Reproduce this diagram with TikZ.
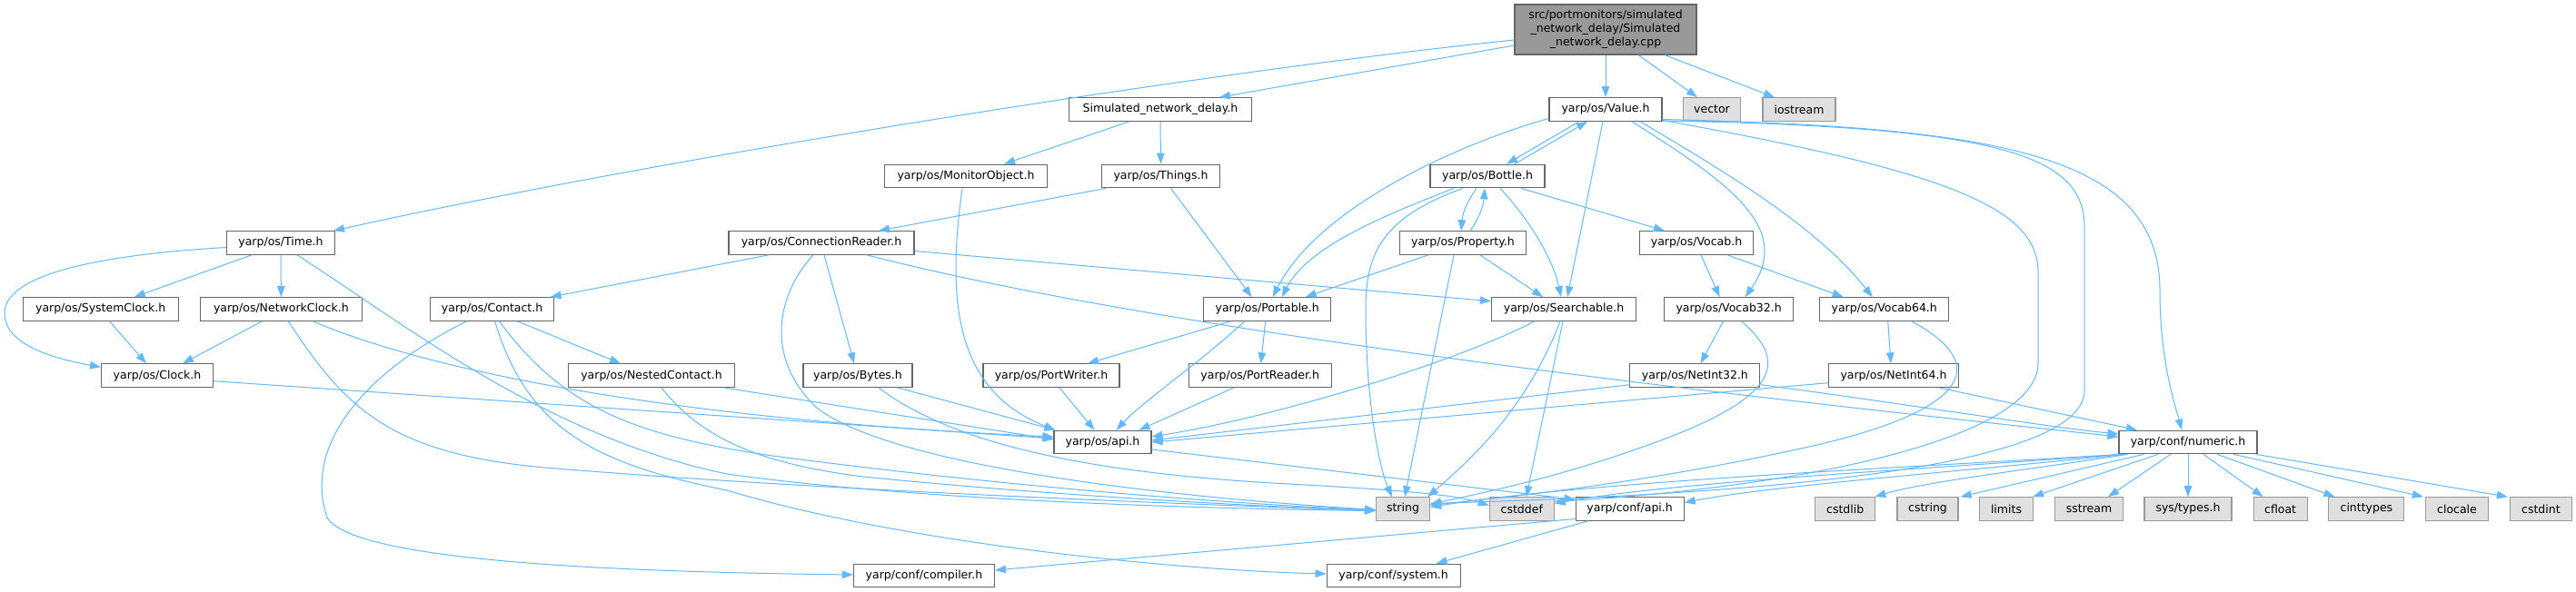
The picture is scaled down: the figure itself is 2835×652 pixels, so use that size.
\documentclass[tikz,border=0pt]{standalone}
\usepackage{fontspec}
\setmainfont{DejaVu Sans}
\usetikzlibrary{arrows.meta}
\definecolor{edgeblue}{HTML}{63B8FF}
\definecolor{boxborder}{HTML}{666666}
\definecolor{extfill}{HTML}{E0E0E0}
\definecolor{extborder}{HTML}{999999}
\definecolor{mainfill}{HTML}{999999}
\begin{document}
\begin{tikzpicture}[x=1pt,y=-1pt,
  box/.style={draw=boxborder, fill=white, line width=1.1pt, minimum height=25.6pt, inner sep=0pt, font=\fontsize{12.5}{15}\selectfont, text=black},
  ext/.style={box, draw=extborder, fill=extfill},
  mainbox/.style={box, fill=mainfill, minimum height=55pt, align=center},
  dep/.style={draw=edgeblue, line width=1pt, -{Triangle[length=12pt,width=8.5pt]}}]
\fill[white] (0,0) rectangle (2835,652);
\useasboundingbox (0,0) rectangle (2835,652);
% nodes
\node[mainbox, minimum width=200pt] (cpp) at (1767,32.5) {src/portmonitors/simulated\\\_network\_delay/Simulated\\\_network\_delay.cpp};
\node[box, minimum width=201pt] (snd) at (1277,120.5) {Simulated\_network\_delay.h};
\node[box, minimum width=124pt] (value) at (1767,120.5) {yarp/os/Value.h};
\node[ext, minimum width=63pt] (vector) at (1884,120.5) {vector};
\node[ext, minimum width=80pt] (iostream) at (1980,120.5) {iostream};
\node[box, minimum width=179pt] (monitor) at (1063,194) {yarp/os/MonitorObject.h};
\node[box, minimum width=130pt] (things) at (1277.5,194) {yarp/os/Things.h};
\node[box, minimum width=126pt] (bottle) at (1637,194) {yarp/os/Bottle.h};
\node[box, minimum width=119pt] (time) at (309,267.5) {yarp/os/Time.h};
\node[box, minimum width=204pt] (connreader) at (904,267.5) {yarp/os/ConnectionReader.h};
\node[box, minimum width=139pt] (property) at (1610,267.5) {yarp/os/Property.h};
\node[box, minimum width=125pt] (vocab) at (1867,267.5) {yarp/os/Vocab.h};
\node[box, minimum width=171pt] (systemclock) at (110.7,340.5) {yarp/os/SystemClock.h};
\node[box, minimum width=178pt] (networkclock) at (309.4,340.5) {yarp/os/NetworkClock.h};
\node[box, minimum width=136pt] (contact) at (541.6,340.5) {yarp/os/Contact.h};
\node[box, minimum width=140pt] (portable) at (1394.7,340.5) {yarp/os/Portable.h};
\node[box, minimum width=159pt] (searchable) at (1721,340.5) {yarp/os/Searchable.h};
\node[box, minimum width=142pt] (vocab32) at (1902.6,340.5) {yarp/os/Vocab32.h};
\node[box, minimum width=142pt] (vocab64) at (2073.7,340.5) {yarp/os/Vocab64.h};
\node[box, minimum width=123pt] (clock) at (173,413.7) {yarp/os/Clock.h};
\node[box, minimum width=183pt] (nested) at (717,413.7) {yarp/os/NestedContact.h};
\node[box, minimum width=120pt] (bytes) at (944,413.7) {yarp/os/Bytes.h};
\node[box, minimum width=150pt] (portwriter) at (1157,413.7) {yarp/os/PortWriter.h};
\node[box, minimum width=157pt] (portreader) at (1386.7,413.7) {yarp/os/PortReader.h};
\node[box, minimum width=143pt] (netint32) at (1865.4,413.7) {yarp/os/NetInt32.h};
\node[box, minimum width=143pt] (netint64) at (2084,413.7) {yarp/os/NetInt64.h};
\node[box, minimum width=107pt] (osapi) at (1213.5,487) {yarp/os/api.h};
\node[box, minimum width=152pt] (numeric) at (2408,487) {yarp/conf/numeric.h};
\node[ext, minimum width=59pt] (string) at (1544,560.5) {string};
\node[ext, minimum width=71pt] (cstddef) at (1674.8,560.5) {cstddef};
\node[box, minimum width=119pt] (confapi) at (1793.6,560.5) {yarp/conf/api.h};
\node[ext, minimum width=66pt] (cstdlib) at (2030.7,560.5) {cstdlib};
\node[ext, minimum width=67pt] (cstring) at (2121.5,560.5) {cstring};
\node[ext, minimum width=59pt] (limits) at (2208,560.5) {limits};
\node[ext, minimum width=75pt] (sstream) at (2299,560.5) {sstream};
\node[ext, minimum width=96pt] (systypes) at (2408,560.5) {sys/types.h};
\node[ext, minimum width=59pt] (cfloat) at (2509.6,560.5) {cfloat};
\node[ext, minimum width=83pt] (cinttypes) at (2604.4,560.5) {cinttypes};
\node[ext, minimum width=69pt] (clocale) at (2704,560.5) {clocale};
\node[ext, minimum width=68pt] (cstdint) at (2796.4,560.5) {cstdint};
\node[box, minimum width=155pt] (compiler) at (1017,634) {yarp/conf/compiler.h};
\node[box, minimum width=147pt] (system) at (1533.6,634) {yarp/conf/system.h};
% cpp
\draw[dep] ([yshift=-17.5pt]cpp.west) -- ([xshift=65pt]snd.north);
\draw[dep] ([yshift=-11.5pt]cpp.west) .. controls (1300,82) and (700,180) .. ([xshift=-2pt]time.north east);
\draw[dep] (cpp.south) -- (value.north);
\draw[dep] ([xshift=36pt]cpp.south) -- ([xshift=-16pt]vector.north);
\draw[dep] ([xshift=65pt]cpp.south) -- ([xshift=-27pt]iostream.north);
% snd
\draw[dep] ([xshift=-34pt]snd.south) -- ([xshift=42pt]monitor.north);
\draw[dep] (snd.south) -- (things.north);
% monitor
\draw[dep] ([xshift=-4pt]monitor.south) .. controls (1042,330) and (1050,430) .. ([xshift=2pt]osapi.north west);
% things
\draw[dep] ([xshift=-60pt]things.south) -- ([xshift=63pt]connreader.north);
\draw[dep] ([xshift=11pt]things.south) -- ([xshift=-17pt]portable.north);
% connreader
\draw[dep] ([xshift=-58pt]connreader.south) -- ([xshift=64pt]contact.north);
\draw[dep] ([xshift=3pt]connreader.south) -- ([xshift=-4pt]bytes.north);
\draw[dep] ([yshift=-9pt]connreader.east) -- ([yshift=8.8pt]searchable.west);
\draw[dep] ([xshift=50pt]connreader.south) .. controls (1300,370) and (1950,440) .. ([yshift=6pt]numeric.west);
\draw[dep] ([xshift=-9pt]connreader.south) .. controls (850,330) and (845,400) .. (900,450) .. controls (980,510) and (1250,545) .. ([yshift=-1pt]string.west);
% time
\draw[dep] ([xshift=-32pt]time.south) -- ([xshift=37pt]systemclock.north);
\draw[dep] (time.south) -- (networkclock.north);
\draw[dep] ([yshift=-5pt]time.west) .. controls (120,280) and (5,300) .. (5,345) .. controls (5,380) and (60,395) .. ([yshift=-4pt]clock.north west);
\draw[dep] ([xshift=18pt]time.south) .. controls (450,360) and (600,480) .. (800,522) .. controls (1000,550) and (1300,560) .. ([yshift=-2pt]string.west);
% clocks
\draw[dep] ([xshift=10pt]systemclock.south) -- ([xshift=-12pt]clock.north);
\draw[dep] ([xshift=-21pt]networkclock.south) -- ([xshift=28pt]clock.north);
\draw[dep] ([xshift=8pt]networkclock.south) .. controls (380,450) and (430,500) .. (600,515) .. controls (900,540) and (1300,555) .. ([yshift=-2pt]string.west);
\draw[dep] ([xshift=35pt]networkclock.south) .. controls (500,420) and (800,465) .. ([yshift=6pt]osapi.west);
\draw[dep] ([yshift=-6pt]clock.east) -- ([yshift=4pt]osapi.west);
% contact
\draw[dep] ([xshift=28pt]contact.south) -- ([xshift=-34pt]nested.north);
\draw[dep] ([xshift=-28pt]contact.south) .. controls (420,400) and (330,480) .. (360,570) .. controls (390,620) and (700,630) .. ([yshift=1pt]compiler.west);
\draw[dep] ([xshift=3pt]contact.south) .. controls (580,470) and (650,510) .. (800,540) .. controls (1000,600) and (1300,628) .. ([yshift=2pt]system.west);
\draw[dep] ([xshift=8pt]contact.south) .. controls (620,450) and (700,480) .. (850,502) .. controls (1100,535) and (1350,555) .. ([yshift=-1pt]string.west);
% nested
\draw[dep] ([xshift=80pt]nested.south) -- ([yshift=3pt]osapi.west);
\draw[dep] ([xshift=11pt]nested.south) .. controls (770,480) and (830,510) .. (950,525) .. controls (1150,545) and (1350,556) .. ([yshift=-2pt]string.west);
% bytes
\draw[dep] ([xshift=44pt]bytes.south) -- ([xshift=2pt]osapi.north west);
\draw[dep] ([xshift=23pt]bytes.south) .. controls (1050,490) and (1200,520) .. (1400,532) .. controls (1550,540) and (1600,545) .. ([yshift=4pt]cstddef.west);
% portable
\draw[dep] ([xshift=-40pt]portable.south) -- ([xshift=40pt]portwriter.north);
\draw[dep] ([xshift=-25pt]portable.south) .. controls (1320,400) and (1260,440) .. ([xshift=15pt]osapi.north);
\draw[dep] ([xshift=-2pt]portable.south) -- ([xshift=1pt]portreader.north);
\draw[dep] ([xshift=9pt]portwriter.south) -- ([xshift=-9pt]osapi.north);
\draw[dep] ([xshift=-29pt]portreader.south) -- ([xshift=40pt]osapi.north);
% osapi
\draw[dep] ([yshift=-8pt]osapi.east) -- ([yshift=-3pt]confapi.north west);
% value
\draw[dep] ([xshift=-29pt]value.south) -- ([xshift=21pt]bottle.north);
\draw[dep] ([xshift=30pt]bottle.north) -- ([xshift=-20pt]value.south);
\draw[dep] ([yshift=-10pt]value.west) .. controls (1600,160) and (1450,230) .. ([xshift=6pt]portable.north);
\draw[dep] ([xshift=-3pt]value.south) -- ([xshift=4pt]searchable.north);
\draw[dep] ([xshift=29pt]value.south) .. controls (1900,200) and (1975,250) .. ([xshift=18pt]vocab32.north);
\draw[dep] ([xshift=38pt]value.south) .. controls (1900,190) and (2000,250) .. ([xshift=-13pt]vocab64.north);
\draw[dep] ([yshift=-11pt]value.east) .. controls (2200,140) and (2377,170) .. (2377,320) .. controls (2377,400) and (2395,450) .. ([xshift=-7pt]numeric.north);
\draw[dep] ([yshift=-12pt]value.east) .. controls (2150,190) and (2243,230) .. (2243,300) -- (2243,400) .. controls (2243,480) and (2000,535) .. ([yshift=8pt]cstddef.east);
\draw[dep] ([yshift=-12.5pt]value.east) .. controls (2200,140) and (2294,170) .. (2294,250) -- (2294,430) .. controls (2294,520) and (1900,545) .. ([yshift=6pt]string.east);
% bottle
\draw[dep] ([xshift=-12pt]bottle.south) to[bend right=15] ([xshift=-2pt]property.north);
\draw[dep] ([xshift=8pt]property.north) to[bend right=15] ([xshift=-3pt]bottle.south);
\draw[dep] ([xshift=-37pt]bottle.south) .. controls (1530,235) and (1440,270) .. ([xshift=16pt]portable.north);
\draw[dep] ([xshift=-27pt]bottle.south) .. controls (1520,240) and (1503,280) .. (1503,340) .. controls (1503,450) and (1520,520) .. ([xshift=-12pt]string.north);
\draw[dep] ([xshift=14pt]bottle.south) .. controls (1690,250) and (1710,290) .. ([xshift=-3pt]searchable.north);
\draw[dep] ([xshift=37pt]bottle.south) -- ([xshift=-35pt]vocab.north);
% property
\draw[dep] ([xshift=-38pt]property.south) -- ([xshift=42pt]portable.north);
\draw[dep] ([xshift=-10pt]property.south) -- ([xshift=2pt]string.north);
\draw[dep] ([xshift=19pt]property.south) -- ([xshift=-23pt]searchable.north);
% searchable
\draw[dep] ([xshift=-32pt]searchable.south) .. controls (1600,400) and (1400,460) .. ([yshift=6pt]osapi.east);
\draw[dep] ([xshift=-4pt]searchable.south) .. controls (1680,450) and (1620,505) .. ([xshift=-3pt]string.north east);
\draw[dep] ([xshift=-1pt]searchable.south) -- ([xshift=5pt]cstddef.north);
% vocab
\draw[dep] ([xshift=5pt]vocab.south) -- ([xshift=-10pt]vocab32.north);
\draw[dep] ([xshift=34pt]vocab.south) -- ([xshift=-45pt]vocab64.north);
\draw[dep] ([xshift=-6pt]vocab32.south) -- ([xshift=6pt]netint32.north);
\draw[dep] ([xshift=14pt]vocab32.south) .. controls (1970,400) and (1960,440) .. (1800,495) .. controls (1700,530) and (1620,545) .. ([yshift=5pt]string.east);
\draw[dep] ([xshift=4pt]vocab64.south) -- ([xshift=-3pt]netint64.north);
\draw[dep] ([xshift=30pt]vocab64.south) .. controls (2190,400) and (2170,450) .. (2000,490) .. controls (1800,535) and (1650,548) .. ([yshift=4pt]string.east);
% netint
\draw[dep] ([yshift=-10pt]netint32.west) -- ([yshift=2pt]osapi.east);
\draw[dep] ([yshift=-10pt]netint32.east) .. controls (2100,445) and (2250,470) .. ([yshift=9pt]numeric.west);
\draw[dep] ([yshift=-8pt]netint64.west) -- (osapi.east);
\draw[dep] ([xshift=50pt]netint64.south) -- ([xshift=-56pt]numeric.north);
% numeric
\draw[dep] ([xshift=3pt]numeric.south west) .. controls (2100,515) and (1750,530) .. ([yshift=2pt]string.east);
\draw[dep] ([xshift=5pt]numeric.south west) .. controls (2100,518) and (1850,530) .. ([yshift=6pt]cstddef.east);
\draw[dep] ([xshift=8pt]numeric.south west) .. controls (2150,520) and (1950,535) .. ([yshift=7pt]confapi.east);
\draw[dep] ([xshift=10pt]numeric.south west) .. controls (2250,515) and (2120,530) .. ([xshift=-1pt]cstdlib.north east);
\draw[dep] ([xshift=28pt]numeric.south west) -- ([xshift=2pt]cstring.north east);
\draw[dep] ([xshift=-33pt]numeric.south) -- ([xshift=-1pt]limits.north east);
\draw[dep] ([xshift=-19pt]numeric.south) -- ([xshift=21pt]sstream.north);
\draw[dep] (numeric.south) -- (systypes.north);
\draw[dep] ([xshift=17pt]numeric.south) -- ([xshift=-19pt]cfloat.north);
\draw[dep] ([xshift=32pt]numeric.south) -- ([xshift=-35pt]cinttypes.north);
\draw[dep] ([xshift=50pt]numeric.south) -- ([xshift=-2pt]clocale.north west);
\draw[dep] ([xshift=-2pt]numeric.south east) -- ([xshift=-2pt]cstdint.north west);
% confapi
\draw[dep] ([yshift=-11pt]confapi.west) -- ([yshift=6pt]compiler.east);
\draw[dep] ([xshift=-46pt]confapi.south) -- ([xshift=47pt]system.north);
\end{tikzpicture}
\end{document}
